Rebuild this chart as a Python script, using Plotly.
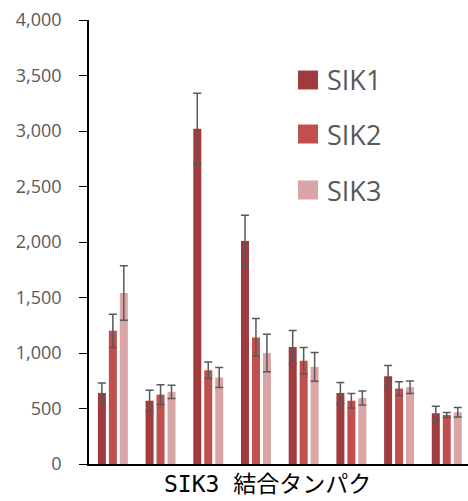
import plotly.graph_objects as go

categories = ["1", "2", "3", "4", "5", "6", "7", "8"]
series_names = ["SIK1", "SIK2", "SIK3"]
sik1 = [640, 570, 3020, 2010, 1055, 640, 790, 457]
sik1_err = [90, 95, 320, 230, 148, 95, 97, 63]
sik2 = [1200, 625, 845, 1140, 930, 570, 680, 442]
sik2_err = [150, 90, 75, 170, 120, 65, 62, 22]
sik3 = [1540, 650, 780, 1000, 875, 595, 692, 466]
sik3_err = [245, 60, 90, 170, 130, 63, 56, 42]
colors = ["#A03C3D", "#C0504D", "#D9A5A6"]
y_ticks = [0, 500, 1000, 1500, 2000, 2500, 3000, 3500, 4000]
x_title = "SIK3 結合タンパク"

values = [sik1, sik2, sik3]
errors = [sik1_err, sik2_err, sik3_err]

fig = go.Figure()
for name, v, e, c in zip(series_names, values, errors, colors):
    fig.add_trace(go.Bar(
        x=categories, y=v, name=name,
        marker=dict(color=c, line=dict(width=0)),
        error_y=dict(type="data", array=e, visible=True,
                     color="#595959", thickness=1.5, width=4),
        showlegend=False,
    ))

W, H = 468, 501
ml, mr, mt, mb = 89, 0, 20, 37
pw = W - ml - mr
ph = H - mt - mb

def px_to_paper_x(px):
    return (px - ml) / pw

def px_to_paper_y(py):
    return (H - mb - py) / ph

shapes = []
annotations = []
legend_y = [80, 134, 190]
for name, c, yc in zip(series_names, colors, legend_y):
    shapes.append(dict(type="rect", xref="paper", yref="paper",
                       x0=px_to_paper_x(298), x1=px_to_paper_x(318),
                       y0=px_to_paper_y(yc + 9.5), y1=px_to_paper_y(yc - 9.5),
                       fillcolor=c, line=dict(width=0)))
    annotations.append(dict(text=name, xref="paper", yref="paper",
                            x=px_to_paper_x(325), y=px_to_paper_y(yc),
                            xanchor="left", yanchor="middle", showarrow=False,
                            font=dict(family="Open Sans", size=27, color="#595959")))

annotations.append(dict(text=x_title, xref="paper", yref="paper",
                        x=px_to_paper_x(267.5), y=px_to_paper_y(484),
                        xanchor="center", yanchor="middle", showarrow=False,
                        font=dict(family="DejaVu Sans Mono, Noto Sans CJK JP", size=23, color="#000000")))

fig.update_layout(
    width=W, height=H,
    margin=dict(l=ml, r=mr, t=mt, b=mb, pad=0),
    plot_bgcolor="white", paper_bgcolor="white",
    barmode="group", bargap=0.31, bargroupgap=0.27,
    shapes=shapes, annotations=annotations,
    showlegend=False,
    xaxis=dict(type="category", range=[-0.5, 7.445], showticklabels=False,
               ticks="", showgrid=False, zeroline=False,
               showline=True, linecolor="#000000", linewidth=1.5),
    yaxis=dict(range=[0, 4000], tickvals=y_ticks,
               ticktext=[f"{t:,}" for t in y_ticks],
               ticks="outside", ticklen=8, tickcolor="#000000", tickwidth=1,
               ticklabelstandoff=14,
               showgrid=False, zeroline=False,
               showline=True, linecolor="#000000", linewidth=1.5,
               tickfont=dict(family="Open Sans", size=18, color="#595959")),
)

fig.write_html("out.html",
               config={"displayModeBar": False},
               post_script="document.body.style.margin='0';document.body.style.overflow='hidden';")
